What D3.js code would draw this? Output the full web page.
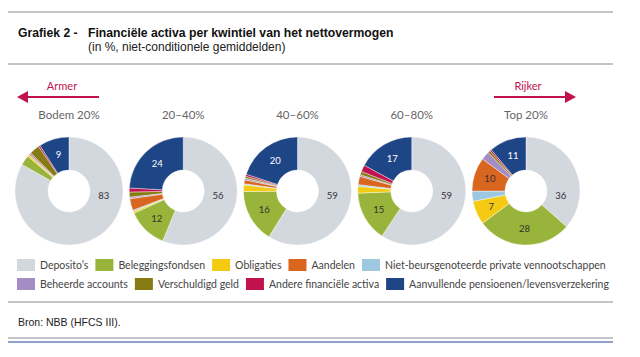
<!DOCTYPE html>
<html>
<head>
<meta charset="utf-8">
<script src="https://cdn.jsdelivr.net/npm/d3@7"></script>
<style>
  html, body { margin: 0; padding: 0; background: #fff; }
  svg { display: block; }
</style>
</head>
<body>
<svg id="chart" width="640" height="357"></svg>
<script>
// ---- Data ----
const categories = ["Bodem 20%", "20–40%", "40–60%", "60–80%", "Top 20%"];
const seriesNames = [
  "Deposito’s", "Beleggingsfondsen", "Obligaties",
  "Niet-beursgenoteerde private vennootschappen", "Aandelen",
  "Beheerde accounts", "Verschuldigd geld", "Andere financiële activa",
  "Aanvullende pensioenen/levensverzekering"
];
const deposito          = [83, 56, 59, 59, 36];
const beleggingsfondsen = [3, 12, 16, 15, 28];
const obligaties        = [0.5, 0.5, 2, 2, 7];
const nietBeurs         = [0, 0.4, 0.3, 0.5, 3];
const aandelen          = [0.3, 3.5, 1.2, 2.5, 10];
const beheerde          = [0.5, 0.5, 0.5, 0.5, 2.5];
const verschuldigd      = [3, 1.5, 0.6, 1, 0.7];
const andere            = [0.5, 1.2, 0.6, 2, 0.5];
const aanvullende       = [9, 24, 20, 17, 11];
const seriesValues = [deposito, beleggingsfondsen, obligaties, nietBeurs, aandelen,
                      beheerde, verschuldigd, andere, aanvullende];
const seriesColors = ["#d3d7de", "#98b43a", "#f4cb12", "#9dc8e0", "#d9661f",
                      "#a48cc4", "#857b12", "#c2124d", "#1e4585"];
const legendRows = [
  ["Deposito’s", "Beleggingsfondsen", "Obligaties", "Aandelen",
   "Niet-beursgenoteerde private vennootschappen"],
  ["Beheerde accounts", "Verschuldigd geld", "Andere financiële activa",
   "Aanvullende pensioenen/levensverzekering"]
];
const titleLabel = "Grafiek 2 -";
const titleText = "Financiële activa per kwintiel van het nettovermogen";
const subtitleText = "(in %, niet-conditionele gemiddelden)";
const sourceText = "Bron: NBB (HFCS III).";
const poorerLabel = "Armer";
const richerLabel = "Rijker";

// ---- Drawing ----
const svg = d3.select("#chart");
const accent = "#c2124d";
const ruleColor = "#8a8a8a";
const uiFont = "Lato, 'Open Sans', sans-serif";
const headFont = "'Liberation Sans', Arial, sans-serif";

// rules
[12, 64, 302, 338].forEach(y => {
  svg.append("line").attr("x1", 8).attr("x2", 613).attr("y1", y).attr("y2", y)
    .attr("stroke", ruleColor).attr("stroke-width", 1);
});
svg.append("line").attr("x1", 8).attr("x2", 613).attr("y1", 342).attr("y2", 342)
  .attr("stroke", "#6f80b8").attr("stroke-width", 1.5);

// titles
svg.append("text").attr("x", 18).attr("y", 37)
  .attr("font-family", headFont).attr("font-weight", "bold")
  .attr("font-size", 12.2).attr("fill", "#111").text(titleLabel);
svg.append("text").attr("x", 88).attr("y", 37)
  .attr("font-family", headFont).attr("font-weight", "bold")
  .attr("font-size", 12.2).attr("fill", "#111").text(titleText);
svg.append("text").attr("x", 88).attr("y", 51)
  .attr("font-family", headFont)
  .attr("font-size", 12).attr("fill", "#222").text(subtitleText);
svg.append("text").attr("x", 18).attr("y", 326)
  .attr("font-family", headFont)
  .attr("font-size", 10.5).attr("fill", "#222").text(sourceText);

// pies
const x = d3.scalePoint().domain(categories).range([69, 526]);
const cy = 191, rOuter = 54, rInner = 21;
const pie = d3.pie().sort(null).value(d => d.value);
const arc = d3.arc().innerRadius(rInner).outerRadius(rOuter);
const labelArc = d3.arc().innerRadius(38).outerRadius(38);

categories.forEach((cat, ci) => {
  const data = seriesNames.map((name, si) => ({
    name, value: seriesValues[si][ci], color: seriesColors[si], idx: si
  }));
  const g = svg.append("g").attr("transform", `translate(${x(cat)},${cy})`);
  const arcs = pie(data);
  g.selectAll("path").data(arcs).join("path")
    .attr("d", arc).attr("fill", d => d.data.color)
    .attr("stroke", "#fff").attr("stroke-width", 0.4);
  g.selectAll("text.val").data(arcs.filter(d => d.data.value >= 5)).join("text")
    .attr("class", "val")
    .attr("transform", d => {
      if (d.data.idx === 0) {
        const a = Math.PI * 0.54, r = 35;
        return `translate(${r * Math.sin(a)},${-r * Math.cos(a)})`;
      }
      const c = labelArc.centroid(d);
      return `translate(${c[0]},${c[1]})`;
    })
    .attr("text-anchor", "middle").attr("dy", "0.35em")
    .attr("font-family", uiFont).attr("font-size", 9.5)
    .attr("fill", d => d.data.idx === 8 ? "#fff" : "#333")
    .text(d => Math.round(d.data.value));
  svg.append("text").attr("x", x(cat)).attr("y", 119)
    .attr("text-anchor", "middle").attr("font-family", uiFont)
    .attr("font-size", 11.5).attr("fill", "#666").text(cat);
});

// arrows
function arrow(x1, x2, tipLeft) {
  svg.append("line").attr("x1", x1).attr("x2", x2).attr("y1", 97).attr("y2", 97)
    .attr("stroke", accent).attr("stroke-width", 2);
  const tip = tipLeft ? x1 - 11 : x2 + 11;
  const base = tipLeft ? x1 : x2;
  svg.append("path").attr("d", `M${tip},97 L${base},91 L${base},103 Z`).attr("fill", accent);
}
arrow(28, 99, true);
arrow(494, 565, false);
svg.append("text").attr("x", 62).attr("y", 90).attr("text-anchor", "middle")
  .attr("font-family", uiFont).attr("font-size", 11).attr("fill", accent).text(poorerLabel);
svg.append("text").attr("x", 528).attr("y", 90).attr("text-anchor", "middle")
  .attr("font-family", uiFont).attr("font-size", 11).attr("fill", accent).text(richerLabel);

// legend
const colorOf = name => seriesColors[seriesNames.indexOf(name)];
legendRows.forEach((row, ri) => {
  let cx = 17;
  const yc = 265 + ri * 19;
  row.forEach(name => {
    svg.append("rect").attr("x", cx).attr("y", yc - 6).attr("width", 18).attr("height", 12)
      .attr("fill", colorOf(name));
    const t = svg.append("text").attr("x", cx + 23).attr("y", yc).attr("dy", "0.35em")
      .attr("font-family", uiFont).attr("font-size", 10.5).attr("fill", "#444").text(name);
    cx = cx + 23 + t.node().getComputedTextLength() + 7;
  });
});
</script>
</body>
</html>
